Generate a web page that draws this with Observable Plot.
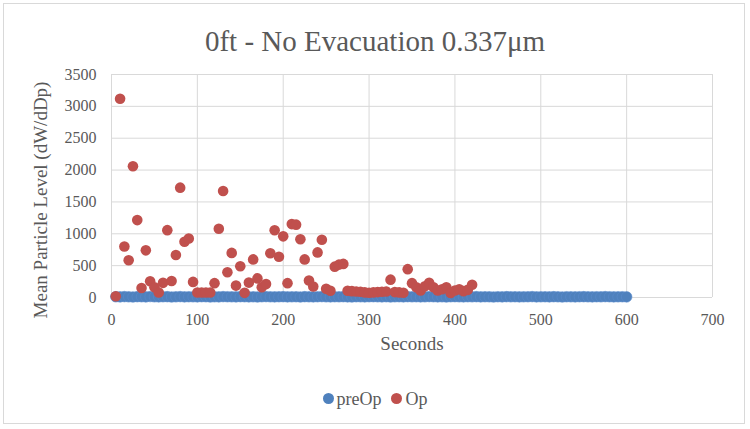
<!DOCTYPE html>
<html>
<head>
<meta charset="utf-8">
<script src="https://cdn.jsdelivr.net/npm/d3@7"></script>
<script src="https://cdn.jsdelivr.net/npm/@observablehq/plot@0.6"></script>
<style>
  body { margin: 0; background: #fff; }
  #chart { position: relative; width: 750px; height: 429px; overflow: hidden;
           font-family: "Liberation Serif", serif; color: #595959; background: #fff; }
  #frame { position: absolute; left: 3px; top: 3px; width: 742px; height: 421px;
           border: 1px solid #d9d9d9; box-sizing: border-box; }
  #title { position: absolute; left: 0; top: 23px; width: 100%; text-align: center;
           font-size: 29px; line-height: 36px; }
  #plot { position: absolute; left: 0; top: 0; }
  #legend { position: absolute; left: 0; top: 387px; width: 100%; text-align: center;
            font-size: 18px; line-height: 22px; }
  .key { display: inline-flex; align-items: center; margin: 0 5px; }
  .sw { width: 11px; height: 11px; border-radius: 50%; margin-right: 3px; display: inline-block; }
</style>
</head>
<body>
<div id="chart">
  <div id="frame"></div>
  <div id="title">0ft - No Evacuation 0.337μm</div>
  <div id="plot"></div>
  <div id="legend"></div>
</div>
<script>
// Axis ticks
const xTicks = [0, 100, 200, 300, 400, 500, 600, 700];
const yTicks = [0, 500, 1000, 1500, 2000, 2500, 3000, 3500];

// Series names and colours
const seriesNames = ["preOp", "Op"];
const seriesColors = ["#4F81BD", "#C0504D"];

// preOp: seconds and mean particle level
const preOpSeconds = [5,10,15,20,25,30,35,40,45,50,55,60,65,70,75,80,85,90,95,100,
  105,110,115,120,125,130,135,140,145,150,155,160,165,170,175,180,185,190,195,200,
  205,210,215,220,225,230,235,240,245,250,255,260,265,270,275,280,285,290,295,300,
  305,310,315,320,325,330,335,340,345,350,355,360,365,370,375,380,385,390,395,400,
  405,410,415,420,425,430,435,440,445,450,455,460,465,470,475,480,485,490,495,500,
  505,510,515,520,525,530,535,540,545,550,555,560,565,570,575,580,585,590,595,600];
const preOpLevel = [12,10,14,11,9,13,12,10,15,11,10,12,13,9,11,14,10,12,11,10,
  13,12,9,11,10,14,12,11,10,13,12,10,11,9,12,14,11,10,12,13,
  10,11,12,9,13,11,10,12,14,11,10,12,11,13,10,9,12,11,10,12,
  13,11,10,12,9,11,12,10,13,11,12,10,11,14,12,10,11,9,12,13,
  11,10,12,11,13,10,12,11,9,12,10,13,11,12,10,11,12,14,10,11,
  12,10,13,11,9,12,11,10,12,13,11,10,12,11,14,12,10,11,12,10];

// Op: seconds and mean particle level
const opSeconds = [5,10,15,20,25,30,35,40,45,50,55,60,65,70,75,80,85,90,95,100,
  105,110,115,120,125,130,135,140,145,150,155,160,165,170,175,180,185,190,195,200,
  205,210,215,220,225,230,235,240,245,250,255,260,265,270,275,280,285,290,295,300,
  305,310,315,320,325,330,335,340,345,350,355,360,365,370,375,380,385,390,395,400,
  405,410,415,420];
const opLevel = [20,3120,800,585,2060,1215,150,740,255,160,78,230,1057,260,667,1724,875,927,245,78,
  78,78,78,225,1080,1672,396,700,187,490,73,234,598,300,161,210,695,1055,640,960,
  225,1152,1143,914,598,266,172,708,906,136,105,484,516,527,105,100,95,90,80,75,
  80,85,90,95,280,85,80,75,445,225,160,110,175,230,160,110,130,160,70,110,
  130,100,120,200];

const preOp = preOpSeconds.map((t, i) => ({t, v: preOpLevel[i]}));
const op = opSeconds.map((t, i) => ({t, v: opLevel[i]}));

const grid = "#d9d9d9";

const chart = Plot.plot({
  width: 750,
  height: 370,
  marginTop: 74,
  marginBottom: 73,
  marginLeft: 111,
  marginRight: 38,
  style: {fontFamily: "'Liberation Serif', serif", fontSize: "16px", color: "#595959",
          background: "transparent", overflow: "visible"},
  x: {domain: [0, 700], ticks: xTicks, tickSize: 0, tickPadding: 16, label: null,
      tickFormat: d => String(d)},
  y: {domain: [0, 3500], ticks: yTicks, tickSize: 0, tickPadding: 15, label: null,
      tickFormat: d => String(d)},
  marks: [
    Plot.gridX(xTicks, {stroke: grid, strokeOpacity: 1, strokeWidth: 1}),
    Plot.gridY(yTicks, {stroke: grid, strokeOpacity: 1, strokeWidth: 1}),
    Plot.dot(preOp, {x: "t", y: "v", r: 5.3, fill: seriesColors[0], stroke: "#5b8ccc", strokeWidth: 0.6}),
    Plot.dot(op, {x: "t", y: "v", r: 5.3, fill: seriesColors[1]}),
    Plot.text(["Seconds"], {frameAnchor: "bottom", dy: 52, fontSize: 19, fill: "#595959"}),
    Plot.text(["Mean Particle Level (dW/dDp)"], {frameAnchor: "left", dx: -71, dy: 14,
      rotate: -90, textAnchor: "middle", fontSize: 19, fill: "#595959",
      style: "letter-spacing: 0.6px"})
  ]
});
document.getElementById("plot").appendChild(chart);

// Legend
const legend = document.getElementById("legend");
seriesNames.forEach((name, i) => {
  const key = document.createElement("span");
  key.className = "key";
  const sw = document.createElement("span");
  sw.className = "sw";
  sw.style.background = seriesColors[i];
  const label = document.createElement("span");
  label.textContent = name;
  key.appendChild(sw);
  key.appendChild(label);
  legend.appendChild(key);
});
</script>
</body>
</html>
